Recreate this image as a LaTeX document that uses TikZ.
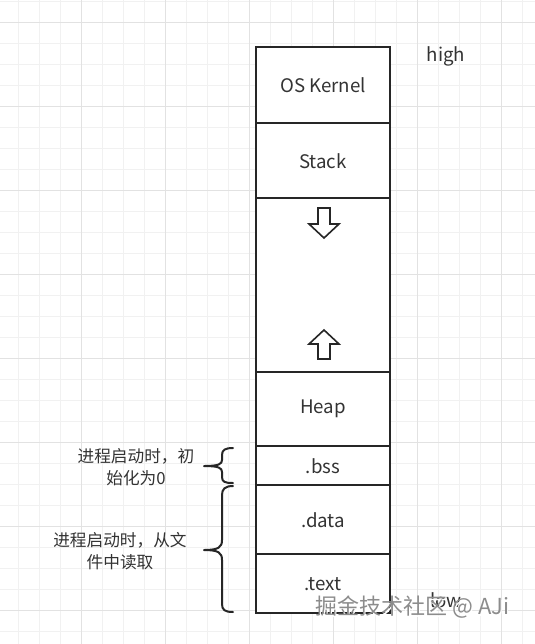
\documentclass[tikz,border=0pt]{standalone}
\usepackage{fontspec}
\setmainfont{Noto Sans CJK SC}
\definecolor{gridminor}{HTML}{F1F1F1}
\definecolor{gridmajor}{HTML}{E2E2E2}
\definecolor{ink}{HTML}{262626}
\definecolor{txt}{HTML}{333333}
\tikzset{
  segline/.style={draw=ink, line width=1.6pt},
  seglabel/.style={text=txt, font=\fontsize{14pt}{16pt}\selectfont, inner sep=0pt},
  sidenote/.style={text=txt, font=\fontsize{12.5pt}{16.5pt}\selectfont, align=center, inner sep=0pt},
  bracestyle/.style={draw=ink, line width=1.5pt, line cap=round, line join=round},
  blockarrow/.style={draw=ink, line width=1.2pt, fill=white, line join=miter},
}
\begin{document}
\begin{tikzpicture}[x=0.75pt, y=-0.75pt]
\useasboundingbox (0,0) rectangle (535,644);
\fill[white] (0,0) rectangle (535,644);
\begin{scope}
\clip (0,0) rectangle (535,644);
\foreach \i in {0,...,26} {
  \draw[gridminor, line width=0.75pt] ({-3+21*\i},0) -- ({-3+21*\i},644);
}
\foreach \i in {0,...,31} {
  \draw[gridminor, line width=0.75pt] (0,{1+21*\i}) -- (535,{1+21*\i});
}
\foreach \i in {0,...,7} {
  \draw[gridmajor, line width=0.75pt] ({-3+84*\i},0) -- ({-3+84*\i},644);
  \draw[gridmajor, line width=0.75pt] (0,{22+84*\i}) -- (535,{22+84*\i});
}
\end{scope}

% memory column
\fill[white] (256,47) rectangle (390,613);
\coordinate (k1) at (256,123); \coordinate (k2) at (390,123);
\coordinate (s1) at (256,198); \coordinate (s2) at (390,198);
\coordinate (h1) at (256,372); \coordinate (h2) at (390,372);
\coordinate (b1) at (256,446); \coordinate (b2) at (390,446);
\coordinate (d1) at (256,485); \coordinate (d2) at (390,485);
\coordinate (t1) at (256,554); \coordinate (t2) at (390,554);
\draw[segline] (k1) -- (k2);
\draw[segline] (s1) -- (s2);
\draw[segline] (h1) -- (h2);
\draw[segline] (b1) -- (b2);
\draw[segline] (d1) -- (d2);
\draw[segline] (t1) -- (t2);
\draw[segline] (256,47) rectangle (390,613);

\node[seglabel] (kernel) at (323,85) {OS Kernel};
\node[seglabel] (stack) at (323,161) {Stack};
\node[seglabel] (heap) at (323,409) {Heap};
\node[seglabel] (bss) at (323,466) {.bss};
\node[seglabel] (data) at (323,520) {.data};
\node[seglabel] (text) at (323,584) {.text};

\node[seglabel] (high) at (446,56) {high};
\node[seglabel] (low) at (446,600) {low};

% block arrows
\draw[blockarrow] (318,208) -- (330,208) -- (330,224) -- (339,224) -- (324,238) -- (309,224) -- (318,224) -- cycle;
\draw[blockarrow] (318,359) -- (330,359) -- (330,344) -- (339,344) -- (324,330) -- (309,344) -- (318,344) -- cycle;

% braces
\draw[bracestyle] (233,448) .. controls (225,448) and (222,450) .. (222,455) -- (222,460)
  .. controls (222,464) and (219,466) .. (204,466)
  .. controls (219,466) and (222,468) .. (222,472) -- (222,477)
  .. controls (222,482) and (225,483) .. (233,483);
\draw[bracestyle] (233,486) .. controls (225,486) and (222,489) .. (222,495) -- (222,540)
  .. controls (222,547) and (219,550) .. (204,550)
  .. controls (219,550) and (222,553) .. (222,560) -- (222,604)
  .. controls (222,610) and (225,612) .. (233,612);

\node[sidenote] (note1) at (136,467) {进程启动时，初\\始化为0};
\node[sidenote] (note2) at (120,551) {进程启动时，从文\\件中读取};

% watermark
\node[text=white, font=\fontsize{16.5pt}{18pt}\selectfont, inner sep=0pt] at (413.8,608.8) {掘金技术社区 @ AJi};
\node[text=gray!90, font=\fontsize{16.5pt}{18pt}\selectfont, inner sep=0pt] (wm) at (412.5,607.5) {掘金技术社区 @ AJi};
\end{tikzpicture}
\end{document}
